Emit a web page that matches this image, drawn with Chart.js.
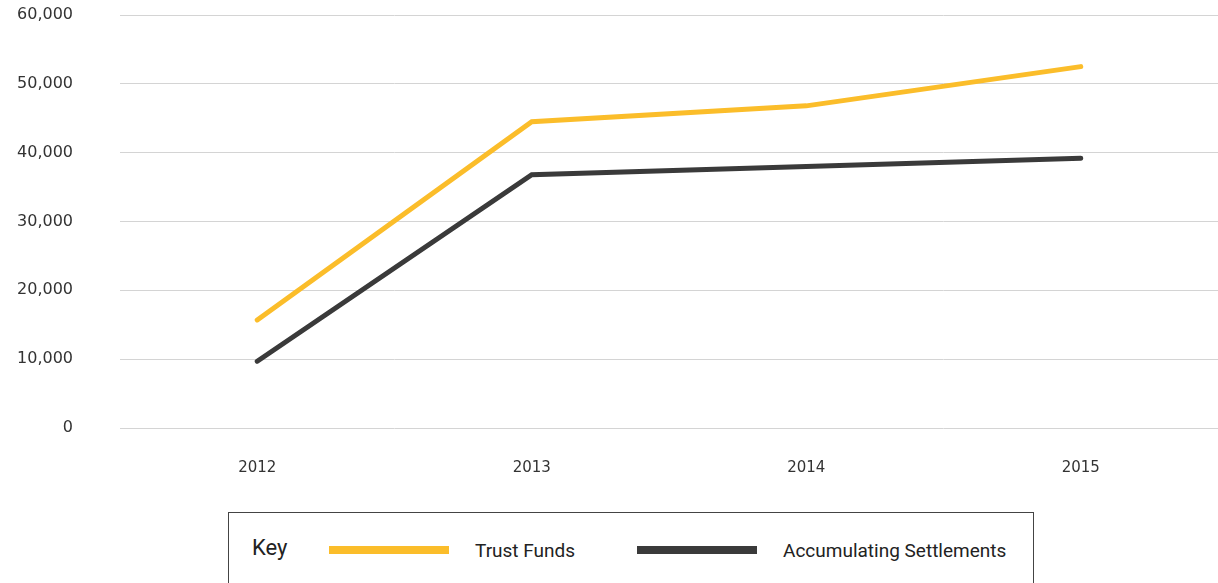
<!DOCTYPE html>
<html lang="en">
<head>
  <meta charset="UTF-8" />
  <title>Trust Funds vs Accumulating Settlements</title>
  <script src="https://cdn.jsdelivr.net/npm/chart.js"></script>
  <style>
    html, body {
      margin: 0;
      padding: 0;
      background: #ffffff;
      width: 1218px;
      height: 583px;
      overflow: hidden;
    }
    #chart {
      position: absolute;
      left: 0;
      top: 0;
    }
    #key {
      position: absolute;
      left: 228px;
      top: 512px;
      width: 806px;
      height: 80px;
      border: 1px solid #444;
      box-sizing: border-box;
      font-family: 'Roboto', sans-serif;
      color: #222;
    }
    #key .title {
      position: absolute;
      left: 23px;
      top: 22px;
      font-size: 22px;
    }
    #key .swatch {
      position: absolute;
      top: 33px;
      width: 120px;
      height: 8px;
    }
    #key .label {
      position: absolute;
      top: 26px;
      font-size: 19px;
    }
  </style>
</head>
<body>
  <canvas id="chart" width="1218" height="500"></canvas>
  <div id="key"><span class="title">Key</span></div>

  <script>
    const years = ['2012', '2013', '2014', '2015'];
    const trustFunds = [15700, 44500, 46800, 52500];
    const accumulating = [9700, 36800, 38000, 39200];
    const seriesNames = ['Trust Funds', 'Accumulating Settlements'];
    const seriesColors = ['#fbbd2a', '#3a3a3a'];

    const chart = new Chart(document.getElementById('chart'), {
      type: 'line',
      data: {
        labels: years,
        datasets: [
          { label: seriesNames[0], data: trustFunds, borderColor: seriesColors[0] },
          { label: seriesNames[1], data: accumulating, borderColor: seriesColors[1] }
        ]
      },
      options: {
        responsive: false,
        animation: false,
        layout: { padding: { top: 15, left: 0, right: 0, bottom: 0 } },
        elements: {
          line: { borderWidth: 5, tension: 0, borderCapStyle: 'round', borderJoinStyle: 'miter', fill: false },
          point: { radius: 0, hoverRadius: 0 }
        },
        plugins: {
          legend: { display: false },
          tooltip: { enabled: false }
        },
        scales: {
          x: {
            offset: true,
            grid: { display: false, drawTicks: false },
            border: { display: false },
            ticks: { color: '#333', font: { family: 'DejaVu Sans, sans-serif', size: 15 }, padding: 31 },
            afterFit: s => { s.height = 72; s.paddingLeft = 0; s.paddingRight = 0; }
          },
          y: {
            min: 0,
            max: 60000,
            grid: { color: '#d4d4d4', lineWidth: 1, drawTicks: false },
            border: { display: false },
            ticks: {
              stepSize: 10000,
              color: '#333',
              font: { family: 'DejaVu Sans, sans-serif', size: 16 },
              padding: 47,
              callback: v => v.toLocaleString('en-US')
            },
            // tick padding would otherwise also push the plot top down
            afterFit: s => { s.width = 120; s.paddingTop = 0; s.paddingBottom = 0; }
          }
        }
      }
    });

    // key box built from the dataset names/colours
    const key = document.getElementById('key');
    const swatchX = [100, 408];
    const labelX = [246, 554];
    seriesNames.forEach((name, i) => {
      const sw = document.createElement('div');
      sw.className = 'swatch';
      sw.style.left = swatchX[i] + 'px';
      sw.style.background = seriesColors[i];
      key.appendChild(sw);
      const lb = document.createElement('span');
      lb.className = 'label';
      lb.style.left = labelX[i] + 'px';
      lb.textContent = name;
      key.appendChild(lb);
    });
  </script>
</body>
</html>
